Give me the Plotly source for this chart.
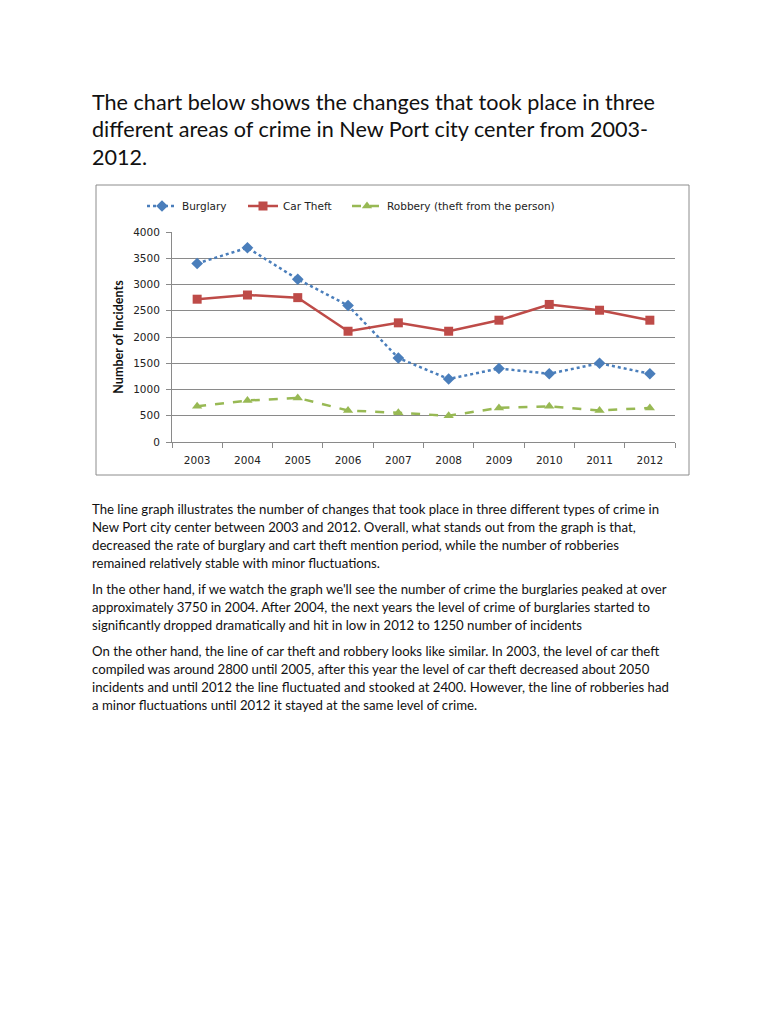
import plotly.graph_objects as go

years = ["2003", "2004", "2005", "2006", "2007", "2008", "2009", "2010", "2011", "2012"]
burglary = [3400, 3700, 3100, 2600, 1600, 1200, 1400, 1300, 1500, 1300]
car_theft = [2720, 2800, 2750, 2110, 2270, 2110, 2320, 2620, 2510, 2320]
robbery = [680, 790, 840, 600, 555, 500, 650, 680, 600, 650]
y_ticks = [0, 500, 1000, 1500, 2000, 2500, 3000, 3500, 4000]

title_lines = [
    "The chart below shows the changes that took place in three",
    "different areas of crime in New Port city center from 2003-",
    "2012.",
]
para1 = [
    "The line graph illustrates the number of changes that took place in three different types of crime in",
    "New Port city center between 2003 and 2012. Overall, what stands out from the graph is that,",
    "decreased the rate of burglary and cart theft mention period, while the number of robberies",
    "remained relatively stable with minor fluctuations.",
]
para2 = [
    "In the other hand, if we watch the graph we'll see the number of crime the burglaries peaked at over",
    "approximately 3750 in 2004. After 2004, the next years the level of crime of burglaries started to",
    "significantly dropped dramatically and hit in low in 2012 to 1250 number of incidents",
]
para3 = [
    "On the other hand, the line of car theft and robbery looks like similar. In 2003, the level of car theft",
    "compiled was around 2800 until 2005, after this year the level of car theft decreased about 2050",
    "incidents and until 2012 the line fluctuated and stooked at 2400. However, the line of robberies had",
    "a minor fluctuations until 2012 it stayed at the same level of crime.",
]

OFF = 8  # default page body margin
W, H = 768 - OFF, 1024 - OFF
L, R, T, B = 172, 675, 232, 442  # plot area in page pixels


def px_x(p):
    return (p - L) / (R - L)


def px_y(p):
    return (B - p) / (B - T)


fig = go.Figure()
fig.add_trace(go.Scatter(
    x=years, y=burglary, name="Burglary", mode="lines+markers", legend="legend",
    line=dict(color="#4a7ebb", width=2.5, dash="dot"),
    marker=dict(symbol="diamond", size=9, color="#4a7ebb"),
))
fig.add_trace(go.Scatter(
    x=years, y=car_theft, name="Car Theft", mode="lines+markers", legend="legend2",
    line=dict(color="#be4b48", width=2.5),
    marker=dict(symbol="square", size=9, color="#be4b48"),
))
fig.add_trace(go.Scatter(
    x=years, y=robbery, name="Robbery (theft from the person)", mode="lines+markers", legend="legend3",
    line=dict(color="#98b954", width=2.5, dash="dash"),
    marker=dict(symbol="triangle-up", size=9, color="#98b954"),
))

tick_font = dict(family="DejaVu Sans", size=10.5, color="#222222")
grid_col = "#8a8a8a"


def leg(xpx):
    return dict(
        orientation="h", x=px_x(xpx), y=px_y(206), xanchor="left", yanchor="middle",
        font=dict(family="DejaVu Sans", size=10.5, color="#222222"),
        bgcolor="rgba(0,0,0,0)", itemclick=False, itemdoubleclick=False,
    )


fig.update_layout(
    width=W, height=H,
    margin=dict(l=L - OFF, r=(W + OFF) - R, t=T - OFF, b=(H + OFF) - B, pad=0),
    paper_bgcolor="white", plot_bgcolor="white",
    showlegend=True,
    legend=leg(142), legend2=leg(243), legend3=leg(347),
    xaxis=dict(
        type="category", categoryorder="array", categoryarray=years,
        range=[-0.5, len(years) - 0.5],
        showgrid=False, showline=True, linecolor=grid_col, linewidth=1,
        ticks="outside", tickson="boundaries", ticklen=5, tickcolor=grid_col,
        tickfont=tick_font, ticklabelstandoff=8, fixedrange=True,
    ),
    yaxis=dict(
        range=[0, 4000], tickvals=y_ticks,
        showgrid=True, gridcolor=grid_col, gridwidth=1,
        showline=True, linecolor=grid_col, linewidth=1,
        ticks="outside", ticklen=5, tickcolor=grid_col,
        tickfont=tick_font, ticklabelstandoff=4, zeroline=False,
        title=dict(text="<b>Number of Incidents</b>",
                   font=dict(family="Lato", size=12.5, color="#111111"), standoff=6),
        fixedrange=True,
    ),
)

# chart border box
fig.add_shape(type="rect", xref="paper", yref="paper",
              x0=px_x(96), x1=px_x(689), y0=px_y(475), y1=px_y(185),
              line=dict(color="#8c8c8c", width=1), fillcolor="rgba(0,0,0,0)", layer="below")

# title lines
for i, txt in enumerate(title_lines):
    fig.add_annotation(text=txt, xref="paper", yref="paper", x=px_x(90), y=px_y(102 + i * 27.5),
                       xanchor="left", yanchor="middle", showarrow=False,
                       font=dict(family="Lato", size=21.6, color="#111111"))

# body paragraphs
for start, lines in [(509, para1), (589, para2), (651, para3)]:
    for i, txt in enumerate(lines):
        fig.add_annotation(text=txt, xref="paper", yref="paper", x=px_x(90), y=px_y(start + i * 18),
                           xanchor="left", yanchor="middle", showarrow=False,
                           font=dict(family="Lato", size=13.2, color="#111111"))

fig.write_html("out.html")
